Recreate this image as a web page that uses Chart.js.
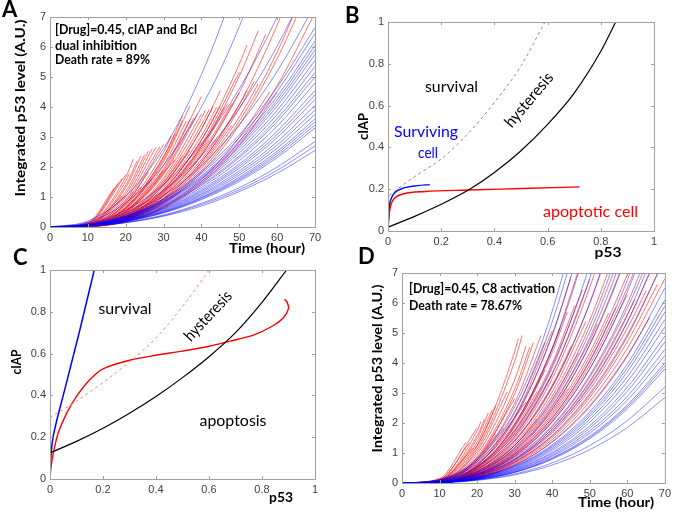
<!DOCTYPE html>
<html>
<head>
<meta charset="utf-8">
<script src="https://cdn.jsdelivr.net/npm/chart.js@4.4.1/dist/chart.umd.min.js"></script>
<style>
  body { margin: 0; background: #fff; }
  canvas { position: absolute; left: 0; top: 0; }
</style>
</head>
<body>
<canvas id="panelA" width="675" height="512"></canvas>
<canvas id="panelB" width="675" height="512"></canvas>
<canvas id="panelC" width="675" height="512"></canvas>
<canvas id="panelD" width="675" height="512"></canvas>
<script>
// ---- tick labels ----
const timeTicks = [0, 10, 20, 30, 40, 50, 60, 70];
const levelTicks = [0, 1, 2, 3, 4, 5, 6, 7];
const unitTicks = [0, 0.2, 0.4, 0.6, 0.8, 1];

// sample times (hour) for surviving cells
const gridHours = [0, 10, 20, 30, 40, 50, 60, 70];

// ---- panel A : surviving cells (blue), integrated p53 at gridHours ----
const survivorsA = [
  [0, .20, 1.03, 2.61, 5.08, 8.48, 12.9, 18.4],
  [0, .16, .81, 2.06, 4.00, 6.68, 10.2, 14.5],
  [0, .11, .56, 1.42, 2.76, 4.61, 7.01, 10.0],
  [0, .09, .48, 1.22, 2.37, 3.96, 6.03, 8.6],
  [0, .08, .41, 1.05, 2.04, 3.41, 5.19, 7.4],
  [0, .07, .37, .94, 1.84, 3.07, 4.66, 6.65],
  [0, .07, .36, .92, 1.78, 2.97, 4.52, 6.45],
  [0, .07, .35, .88, 1.71, 2.86, 4.35, 6.2],
  [0, .07, .34, .86, 1.67, 2.79, 4.24, 6.05],
  [0, .06, .33, .84, 1.63, 2.72, 4.14, 5.9],
  [0, .06, .32, .82, 1.59, 2.65, 4.03, 5.75],
  [0, .06, .31, .79, 1.53, 2.56, 3.89, 5.55],
  [0, .06, .30, .76, 1.48, 2.47, 3.75, 5.35],
  [0, .06, .29, .73, 1.42, 2.37, 3.61, 5.15],
  [0, .06, .28, .71, 1.38, 2.31, 3.51, 5.0],
  [0, .05, .27, .68, 1.32, 2.21, 3.36, 4.8],
  [0, .05, .25, .65, 1.26, 2.10, 3.19, 4.55],
  [0, .05, .25, .62, 1.21, 2.03, 3.08, 4.4],
  [0, .05, .24, .60, 1.17, 1.96, 2.98, 4.25],
  [0, .04, .23, .58, 1.12, 1.87, 2.84, 4.05],
  [0, .04, .22, .55, 1.08, 1.80, 2.73, 3.9],
  [0, .04, .21, .53, 1.04, 1.73, 2.63, 3.75],
  [0, .04, .20, .51, .99, 1.66, 2.52, 3.6],
  [0, .04, .20, .50, .97, 1.61, 2.45, 3.5],
  [0, .04, .19, .48, .94, 1.57, 2.38, 3.4],
  [0, .04, .18, .47, .91, 1.52, 2.31, 3.3],
  [0, .03, .16, .40, .79, 1.31, 2.00, 2.85],
  [0, .03, .15, .38, .75, 1.24, 1.89, 2.7],
  [0, .03, .14, .36, .70, 1.18, 1.79, 2.55]
];

// ---- panel A : apoptotic cells (red), [hour, level] until death ----
const deadA = [
  [[0, 0], [10, .15], [17, 1.30]],
  [[0, 0], [10, .13], [18, 1.46]],
  [[0, 0], [10, .12], [19, 1.61]],
  [[0, 0], [10, .11], [20, 1.74]],
  [[0, 0], [10, .11], [20, 1.66], [22, 2.26]],
  [[0, 0], [10, .10], [20, 1.52], [21, 1.79]],
  [[0, 0], [10, .09], [20, 1.39], [23, 2.20]],
  [[0, 0], [10, .08], [20, 1.31], [24, 2.36]],
  [[0, 0], [10, .08], [19, 1.03]],
  [[0, 0], [10, .075], [20, 1.18], [25, 2.41]],
  [[0, 0], [10, .07], [20, 1.09], [26, 2.53]],
  [[0, 0], [10, .064], [20, 1.00], [27, 2.61]],
  [[0, 0], [10, .059], [20, .91], [28, 2.66]],
  [[0, 0], [10, .056], [20, .87], [22, 1.19]],
  [[0, 0], [10, .053], [20, .83], [29, 2.68]],
  [[0, 0], [10, .049], [20, .77], [30, 2.75]],
  [[0, 0], [10, .048], [20, .74], [24, 1.34]],
  [[0, 0], [10, .045], [20, .70], [30, 2.5], [32, 3.03]],
  [[0, 0], [10, .042], [20, .65], [30, 2.34], [33, 3.11]],
  [[0, 0], [10, .040], [20, .63], [30, 2.25], [35, 3.55]],
  [[0, 0], [10, .039], [20, .61], [27, 1.59]],
  [[0, 0], [10, .037], [20, .57], [30, 2.06], [36, 3.53]],
  [[0, 0], [10, .035], [20, .54], [30, 1.94], [37, 3.59]],
  [[0, 0], [10, .034], [20, .52], [30, 1.88]],
  [[0, 0], [10, .032], [20, .51], [30, 1.81], [38, 3.63]],
  [[0, 0], [10, .031], [20, .49], [30, 1.75], [39, 3.77]],
  [[0, 0], [10, .030], [20, .47], [33, 2.24]],
  [[0, 0], [10, .029], [20, .45], [30, 1.63], [40, 3.77]],
  [[0, 0], [10, .028], [20, .44], [30, 1.56], [40, 3.62], [41, 3.89]],
  [[0, 0], [10, .027], [20, .42], [30, 1.50], [35, 2.37]],
  [[0, 0], [10, .026], [20, .41], [30, 1.47], [40, 3.41], [42, 3.91]],
  [[0, 0], [10, .025], [20, .39], [30, 1.41], [40, 3.26], [43, 4.01]],
  [[0, 0], [10, .025], [20, .38], [30, 1.38], [37, 2.55]],
  [[0, 0], [10, .023], [20, .37], [30, 1.31], [40, 3.04], [44, 3.99]],
  [[0, 0], [10, .022], [20, .35], [30, 1.25], [40, 2.90], [45, 4.05]],
  [[0, 0], [10, .022], [20, .34], [30, 1.22], [40, 2.83]],
  [[0, 0], [10, .021], [20, .32], [30, 1.16], [40, 2.68], [46, 3.98]],
  [[0, 0], [10, .020], [20, .31], [30, 1.13], [40, 2.61], [47, 4.12]],
  [[0, 0], [10, .020], [20, .30], [30, 1.09], [40, 2.54], [42, 2.91]],
  [[0, 0], [10, .019], [20, .30], [30, 1.06], [40, 2.46], [48, 4.12]],
  [[0, 0], [10, .018], [20, .29], [30, 1.03], [40, 2.39], [50, 4.48]],
  [[0, 0], [10, .017], [20, .27], [30, .97], [40, 2.25], [44, 2.94]],
  [[0, 0], [10, .017], [20, .26], [30, .94], [40, 2.17], [50, 4.08], [52, 4.54]],
  [[0, 0], [10, .016], [20, .25], [30, .91], [40, 2.10], [50, 3.94], [54, 4.87]],
  [[0, 0], [10, .016], [20, .24], [30, .88], [40, 2.03], [48, 3.39]],
  [[0, 0], [10, .015], [20, .24], [30, .84], [40, 1.96], [50, 3.67], [55, 4.77]],
  [[0, 0], [10, .022], [20, .35], [30, 1.25], [40, 2.90], [50, 5.43], [52, 6.06]],
  [[0, 0], [10, .021], [20, .32], [30, 1.16], [40, 2.68], [50, 5.03], [55, 6.54]],
  [[0, 0], [10, .018], [20, .29], [30, 1.03], [40, 2.39], [50, 4.48], [57, 6.43]],
  [[0, 0], [10, .017], [20, .26], [30, .94], [40, 2.17], [50, 4.08], [60, 6.73], [62, 7.36]],
  [[0, 0], [10, .014], [20, .22], [30, .78], [40, 1.81], [50, 3.40], [60, 5.61], [65, 6.97]],
  [[0, 0], [10, .034], [20, .52], [30, 1.88], [40, 4.35]],
  [[0, 0], [10, .039], [20, .61], [30, 2.19], [37, 4.05]],
  [[0, 0], [10, .042], [20, .65], [30, 2.34], [35, 3.70]],
  [[0, 0], [10, .025], [20, .39], [30, 1.41], [40, 3.26], [45, 4.55]],
  [[0, 0], [10, .021], [20, .33], [30, 1.19], [40, 2.75], [50, 5.16]],
  [[0, 0], [10, .011], [20, .17], [30, .63], [40, 1.45], [50, 2.72], [60, 4.49]],
  [[0, 0], [10, .012], [20, .19], [30, .69], [40, 1.59], [50, 2.99], [58, 4.50]],
  [[0, 0], [10, .067], [20, 1.05]],
  [[0, 0], [10, .050], [20, .78], [26, 1.82]],
  [[0, 0], [10, .015], [20, .23], [30, .81], [40, 1.88], [50, 3.53], [60, 5.83], [68, 8.19]],
  [[0, 0], [10, .012], [20, .18], [30, .66], [40, 1.52], [50, 2.85], [60, 4.71], [70, 7.15]]
];

// ---- panel B : cIAP vs p53, [p53, cIAP] ----
const bThreshold = [[0, .018], [0.1, .07], [0.2, .128], [0.307, .2], [0.4, .28], [0.5, .384], [0.6, .51], [0.7, .66], [0.8, .86], [0.856, 1.0]];
const bHysteresis = [[0.005, .17], [0.05, .215], [0.1, .26], [0.2, .345], [0.3, .465], [0.4, .615], [0.5, .79], [0.59, 1.0]];
const bSurvivor = [[0, 0], [0.003, .07], [0.006, .125], [0.012, .155], [0.025, .183], [0.06, .206], [0.11, .217], [0.157, .222]];
const bDying = [[0, .01], [0.002, .05], [0.006, .095], [0.012, .13], [0.025, .158], [0.06, .178], [0.14, .189], [0.3, .196], [0.5, .203], [0.72, .211]];

// ---- panel C : cIAP vs p53 ----
const cSurvival = [[0, 0], [0.002, .08], [0.008, .17], [0.02, .25], [0.05, .4], [0.11, .7], [0.167, 1.0]];
const cThreshold = [[0, .125], [0.1, .18], [0.2, .243], [0.3, .315], [0.4, .395], [0.5, .485], [0.6, .585], [0.7, .70], [0.8, .845], [0.893, 1.0]];
const cHysteresis = [[0, .295], [0.1, .372], [0.2, .462], [0.3, .56], [0.4, .675], [0.5, .825], [0.6, 1.0]];
const cDying = [[0, 0], [0.003, .05], [0.013, .127], [0.031, .22], [0.063, .315], [0.1, .395], [0.15, .475], [0.2, .527], [0.3, .568], [0.4, .592], [0.5, .612], [0.6, .635], [0.68, .66], [0.77, .69], [0.84, .732], [0.88, .77], [0.9, .815], [0.895, .845], [0.885, .86]];

// ---- panel D : surviving cells (blue) at gridHours ----
const survivorsD = [
  [0, .11, .82, 2.55, 5.73, 10.7, 17.8, 27.4],
  [0, .10, .77, 2.39, 5.37, 10.0, 16.7, 25.7],
  [0, .09, .71, 2.20, 4.95, 9.24, 15.4, 23.7],
  [0, .09, .64, 1.99, 4.47, 8.35, 13.9, 21.4],
  [0, .07, .56, 1.74, 3.91, 7.29, 12.2, 18.7],
  [0, .07, .53, 1.63, 3.66, 6.83, 11.4, 17.5],
  [0, .06, .46, 1.43, 3.22, 6.01, 10.0, 15.4],
  [0, .05, .40, 1.25, 2.80, 5.23, 8.71, 13.4],
  [0, .05, .37, 1.15, 2.59, 4.84, 8.06, 12.4],
  [0, .05, .35, 1.10, 2.47, 4.60, 7.67, 11.8],
  [0, .04, .31, .97, 2.17, 4.06, 6.76, 10.4],
  [0, .04, .29, .91, 2.05, 3.82, 6.37, 9.8],
  [0, .04, .28, .86, 1.92, 3.59, 5.98, 9.2],
  [0, .03, .26, .80, 1.80, 3.35, 5.59, 8.6],
  [0, .03, .25, .77, 1.72, 3.22, 5.36, 8.25],
  [0, .03, .23, .70, 1.57, 2.93, 4.88, 7.5],
  [0, .03, .20, .60, 1.36, 2.54, 4.23, 6.5],
  [0, .02, .18, .57, 1.27, 2.38, 3.97, 6.1],
  [0, .02, .18, .55, 1.23, 2.30, 3.84, 5.9],
  [0, .02, .17, .53, 1.19, 2.22, 3.71, 5.7],
  [0, .02, .16, .51, 1.14, 2.13, 3.54, 5.45],
  [0, .02, .16, .48, 1.09, 2.03, 3.38, 5.2],
  [0, .02, .15, .46, 1.02, 1.91, 3.19, 4.9],
  [0, .02, .14, .44, .98, 1.83, 3.06, 4.7],
  [0, .02, .13, .41, .93, 1.74, 2.89, 4.45],
  [0, .02, .13, .40, .89, 1.66, 2.76, 4.25],
  [0, .02, .12, .37, .84, 1.56, 2.60, 4.0],
  [0, .02, .12, .36, .82, 1.52, 2.54, 3.9],
  [0, .02, .11, .35, .79, 1.48, 2.47, 3.8],
  [0, .01, .10, .30, .67, 1.25, 2.08, 3.2],
  [0, .01, .09, .27, .60, 1.11, 1.85, 2.85]
];

// ---- panel D : apoptotic cells (red) ----
const deadD = [
  [[0, 0], [10, .15], [17, 1.35]],
  [[0, 0], [10, .12], [18, 1.34]],
  [[0, 0], [10, .12], [20, 1.83]],
  [[0, 0], [10, .11], [20, 1.74], [21, 2.05]],
  [[0, 0], [10, .10], [20, 1.57], [22, 2.14]],
  [[0, 0], [10, .095], [20, 1.48], [23, 2.34]],
  [[0, 0], [10, .087], [20, 1.35], [24, 2.44]],
  [[0, 0], [10, .081], [20, 1.26], [25, 2.59]],
  [[0, 0], [10, .078], [20, 1.22], [30, 4.38], [31, 4.83]],
  [[0, 0], [10, .073], [20, 1.13], [30, 4.06], [32, 4.92]],
  [[0, 0], [10, .067], [20, 1.05], [28, 3.04]],
  [[0, 0], [10, .061], [20, .96], [30, 3.44], [33, 4.56]],
  [[0, 0], [10, .056], [20, .87], [30, 3.13], [34, 4.53]],
  [[0, 0], [10, .053], [20, .83], [30, 2.97], [35, 4.68]],
  [[0, 0], [10, .050], [20, .78], [30, 2.81]],
  [[0, 0], [10, .048], [20, .74], [30, 2.66], [37, 4.92]],
  [[0, 0], [10, .045], [20, .70], [27, 1.82]],
  [[0, 0], [10, .042], [20, .65], [30, 2.34], [38, 4.69]],
  [[0, 0], [10, .039], [20, .61], [30, 2.19], [40, 5.07]],
  [[0, 0], [10, .036], [20, .57], [33, 2.70]],
  [[0, 0], [10, .035], [20, .54], [30, 1.94], [40, 4.49], [42, 5.16]],
  [[0, 0], [10, .034], [20, .52], [30, 1.88], [40, 4.35], [44, 5.70]],
  [[0, 0], [10, .032], [20, .50], [30, 1.78], [36, 3.05]],
  [[0, 0], [10, .031], [20, .48], [30, 1.72], [40, 3.99], [46, 5.92]],
  [[0, 0], [10, .030], [20, .46], [30, 1.66], [40, 3.84], [48, 6.43]],
  [[0, 0], [10, .028], [20, .44], [30, 1.56], [40, 3.62], [50, 6.79]],
  [[0, 0], [10, .028], [20, .44], [30, 1.56], [40, 3.62]],
  [[0, 0], [10, .027], [20, .42], [30, 1.50], [40, 3.48], [50, 6.52], [52, 7.27]],
  [[0, 0], [10, .025], [20, .39], [30, 1.41], [40, 3.26], [45, 4.55]],
  [[0, 0], [10, .025], [20, .38], [30, 1.38], [40, 3.19], [50, 5.98], [54, 7.40]],
  [[0, 0], [10, .023], [20, .37], [30, 1.31], [40, 3.04], [49, 5.39]],
  [[0, 0], [10, .022], [20, .35], [30, 1.25], [40, 2.90], [50, 5.43], [56, 7.43]],
  [[0, 0], [10, .021], [20, .33], [30, 1.19], [40, 2.75], [47, 4.34]],
  [[0, 0], [10, .021], [20, .32], [30, 1.16], [40, 2.68], [50, 5.03], [58, 7.57]],
  [[0, 0], [10, .020], [20, .30], [30, 1.09], [40, 2.54], [50, 4.75], [52, 5.30]],
  [[0, 0], [10, .019], [20, .30], [30, 1.06], [40, 2.46], [50, 4.62], [60, 7.63]],
  [[0, 0], [10, .018], [20, .28], [30, 1.00], [40, 2.32], [50, 4.35], [55, 5.66]],
  [[0, 0], [10, .017], [20, .27], [30, .97], [40, 2.25], [50, 4.21], [60, 6.95], [62, 7.60]],
  [[0, 0], [10, .017], [20, .26], [30, .94], [40, 2.17], [50, 4.08], [57, 5.85]],
  [[0, 0], [10, .016], [20, .25], [30, .91], [40, 2.10], [50, 3.94], [60, 6.51], [65, 8.09]],
  [[0, 0], [10, .016], [20, .24], [30, .88], [40, 2.03], [50, 3.80], [60, 6.28]],
  [[0, 0], [10, .015], [20, .23], [30, .81], [40, 1.88], [50, 3.53], [60, 5.83], [66, 7.56]],
  [[0, 0], [10, .014], [20, .22], [30, .78], [40, 1.81], [50, 3.40], [60, 5.61], [62, 6.13]],
  [[0, 0], [10, .013], [20, .21], [30, .75], [40, 1.74], [50, 3.26], [60, 5.38], [68, 7.56]],
  [[0, 0], [10, .013], [20, .20], [30, .72], [40, 1.67], [50, 3.12], [60, 5.16], [65, 6.41]],
  [[0, 0], [10, .012], [20, .19], [30, .69], [40, 1.59], [50, 2.99], [60, 4.94], [70, 7.49]],
  [[0, 0], [10, .012], [20, .18], [30, .66], [40, 1.52], [50, 2.85], [60, 4.71], [68, 6.62]],
  [[0, 0], [10, .011], [20, .17], [30, .63], [40, 1.45], [50, 2.72], [60, 4.49], [70, 6.81]],
  [[0, 0], [10, .011], [20, .17], [30, .59], [40, 1.38], [50, 2.58], [60, 4.26], [66, 5.52]],
  [[0, 0], [10, .034], [20, .52], [30, 1.88], [38, 3.75]],
  [[0, 0], [10, .050], [20, .78], [25, 1.61]],
  [[0, 0], [10, .089], [19, 1.17]],
  [[0, 0], [10, .038], [20, .59], [30, 2.13], [40, 4.93], [45, 6.88]],
  [[0, 0], [10, .035], [20, .54], [30, 1.94], [40, 4.49], [47, 7.09]],
  [[0, 0], [10, .022], [20, .35], [30, 1.25], [36, 2.14]],
  [[0, 0], [10, .018], [20, .29], [30, 1.03], [40, 2.39], [44, 3.13]]
];

const BLUE_TRACE = 'rgba(0, 0, 255, 0.45)';
const RED_TRACE = 'rgba(255, 0, 0, 0.55)';
const Y_AXIS_W = 30;
const X_AXIS_H = 24;

// box round the plot + inward ticks + free text (matlab look)
const framePlugin = {
  id: 'frame',
  afterDraw(chart, args, opts) {
    const { ctx, chartArea: a, scales } = chart;
    ctx.save();
    ctx.strokeStyle = '#a0a0a0';
    ctx.lineWidth = 1;
    ctx.strokeRect(a.left + 0.5, a.top + 0.5, a.right - a.left, a.bottom - a.top);
    ctx.beginPath();
    scales.x.ticks.forEach(t => {
      const px = Math.round(scales.x.getPixelForValue(t.value)) + 0.5;
      ctx.moveTo(px, a.bottom); ctx.lineTo(px, a.bottom - 3);
      ctx.moveTo(px, a.top); ctx.lineTo(px, a.top + 3);
    });
    scales.y.ticks.forEach(t => {
      const py = Math.round(scales.y.getPixelForValue(t.value)) + 0.5;
      ctx.moveTo(a.left, py); ctx.lineTo(a.left + 3, py);
      ctx.moveTo(a.right, py); ctx.lineTo(a.right - 3, py);
    });
    ctx.stroke();
    ctx.restore();
    (opts.texts || []).forEach(t => drawText(ctx, t));
  }
};

// squeezes the text to the width it has in the picture (calibri is narrow)
function drawText(ctx, t) {
  ctx.save();
  ctx.font = t.font;
  ctx.fillStyle = t.color || '#000';
  ctx.textAlign = t.align || 'center';
  ctx.textBaseline = t.baseline || 'alphabetic';
  ctx.translate(t.x, t.y);
  if (t.angle) ctx.rotate(t.angle * Math.PI / 180);
  if (t.width) ctx.scale(t.width / ctx.measureText(t.text).width, 1);
  ctx.fillText(t.text, 0, 0);
  ctx.restore();
}

function curve(points, color, width, extra) {
  return Object.assign({
    data: points.map(([x, y]) => ({ x, y })),
    borderColor: color,
    borderWidth: width,
    pointRadius: 0,
    fill: false
  }, extra);
}

function axis(max, ticks, isX, pad) {
  return {
    type: 'linear',
    min: 0,
    max: max,
    grid: { display: false, drawTicks: false },
    border: { display: false },
    afterBuildTicks: s => { s.ticks = ticks.map(v => ({ value: v })); },
    afterFit: s => {
      if (isX) s.height = X_AXIS_H; else s.width = Y_AXIS_W;
    },
    ticks: {
      padding: pad,
      color: '#404040',
      font: { family: 'Liberation Sans', size: 11 },
      maxRotation: 0,
      autoSkip: false,
      callback: v => String(v)
    }
  };
}

// area = [left, top, right, bottom] of the plot box in page pixels
function panel(id, area, xMax, yMax, xTicks, yTicks, datasets, texts) {
  return new Chart(document.getElementById(id), {
    type: 'line',
    data: { datasets },
    options: {
      responsive: false,
      animation: false,
      events: [],
      layout: {
        padding: {
          left: area[0] - Y_AXIS_W,
          top: area[1],
          right: 675 - area[2],
          bottom: 512 - area[3] - X_AXIS_H
        }
      },
      plugins: {
        legend: { display: false },
        tooltip: { enabled: false },
        frame: { texts }
      },
      scales: {
        x: axis(xMax, xTicks, true, 4),
        y: axis(yMax, yTicks, false, 4)
      }
    },
    plugins: [framePlugin]
  });
}

const mono = { cubicInterpolationMode: 'monotone' };

function traces(survivors, dead) {
  const blue = survivors.map(v => curve(gridHours.map((t, i) => [t, v[i]]), BLUE_TRACE, 1, mono));
  const red = dead.map(p => curve(p, RED_TRACE, 1, mono));
  return blue.concat(red);
}

const LETTER = 'bold 22px Lato';
const NOTE = 'bold 13px Lato';
const TITLE = 'bold 14px Lato';
const WORD = '16px Lato';

// A
panel('panelA', [50, 17, 315, 227], 70, 7, timeTicks, levelTicks, traces(survivorsA, deadA), [
  { text: 'A', x: 2, y: 17, font: LETTER, align: 'left' },
  { text: '[Drug]=0.45, cIAP and Bcl', x: 55, y: 33.5, font: NOTE, align: 'left', width: 142 },
  { text: 'dual inhibition', x: 55, y: 49.5, font: NOTE, align: 'left', width: 82 },
  { text: 'Death rate = 89%', x: 55, y: 64, font: NOTE, align: 'left', width: 95 },
  { text: 'Integrated p53 level (A.U.)', x: 20, y: 108, font: TITLE, angle: -90, baseline: 'middle', width: 177 },
  { text: 'Time (hour)', x: 267, y: 248, font: TITLE, baseline: 'middle', width: 76 }
]);

// B
panel('panelB', [388, 22, 654, 231], 1, 1, unitTicks, unitTicks, [
  curve(bHysteresis, '#8c8c8c', 1, { borderDash: [3, 3], cubicInterpolationMode: 'monotone' }),
  curve(bThreshold, '#000000', 1.2, mono),
  curve(bDying, '#ff0000', 1.4, mono),
  curve(bSurvivor, '#0000ff', 1.4, mono)
], [
  { text: 'B', x: 345, y: 23, font: LETTER, align: 'left' },
  { text: 'survival', x: 451.5, y: 92, font: WORD, width: 53 },
  { text: 'hysteresis', x: 529, y: 100, font: WORD, angle: -50, baseline: 'middle', width: 66 },
  { text: 'Surviving', x: 426, y: 137, font: WORD, color: '#0000ff', width: 64 },
  { text: 'cell', x: 428, y: 158, font: WORD, color: '#0000ff', width: 20 },
  { text: 'apoptotic cell', x: 590.5, y: 217, font: WORD, color: '#ff0000', width: 95 },
  { text: 'cIAP', x: 363, y: 126.5, font: TITLE, angle: -90, baseline: 'middle', width: 27 },
  { text: 'p53', x: 608, y: 252, font: TITLE, baseline: 'middle', width: 27 }
]);

// C  (the red one turns back on itself at the end, so plain bezier there)
panel('panelC', [50, 270, 315, 479], 1, 1, unitTicks, unitTicks, [
  curve(cHysteresis, '#ff8080', 1, { borderDash: [3, 3], cubicInterpolationMode: 'monotone' }),
  curve(cThreshold, '#000000', 1.2, mono),
  curve(cDying, '#ff0000', 1.4, { tension: 0.3 }),
  curve(cSurvival, '#0000ff', 1.5, mono)
], [
  { text: 'C', x: 13, y: 265, font: LETTER, align: 'left' },
  { text: 'survival', x: 125, y: 314, font: WORD, width: 53 },
  { text: 'hysteresis', x: 208, y: 316, font: WORD, angle: -47, baseline: 'middle', width: 62 },
  { text: 'apoptosis', x: 233, y: 426, font: WORD, width: 67 },
  { text: 'cIAP', x: 16, y: 362, font: TITLE, angle: -90, baseline: 'middle', width: 25 },
  { text: 'p53', x: 281, y: 497, font: TITLE, baseline: 'middle', width: 24 }
]);

// D
panel('panelD', [402, 273, 667, 483], 70, 7, timeTicks, levelTicks, traces(survivorsD, deadD), [
  { text: 'D', x: 358, y: 264, font: LETTER, align: 'left' },
  { text: '[Drug]=0.45, C8 activation', x: 409, y: 293, font: NOTE, align: 'left', width: 146 },
  { text: 'Death rate = 78.67%', x: 409, y: 310, font: NOTE, align: 'left', width: 113 },
  { text: 'Integrated p53 level (A.U.)', x: 377, y: 368.5, font: TITLE, angle: -90, baseline: 'middle', width: 168 },
  { text: 'Time (hour)', x: 616, y: 502, font: TITLE, baseline: 'middle', width: 76 }
]);
</script>
</body>
</html>
